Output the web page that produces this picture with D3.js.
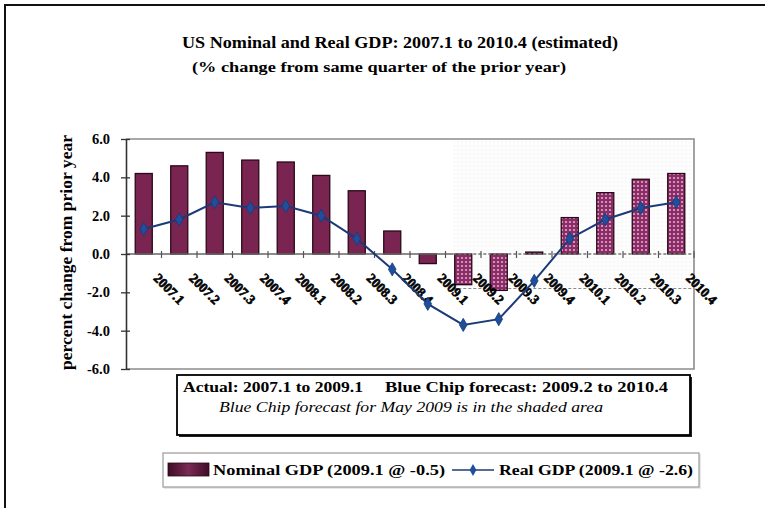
<!DOCTYPE html>
<html>
<head>
<meta charset="utf-8">
<script src="https://cdn.jsdelivr.net/npm/d3@7"></script>
<style>
  html, body { margin: 0; padding: 0; background: #fff; }
  svg { display: block; }
  svg text { font-family: "Liberation Serif", "DejaVu Serif", serif !important; fill: #000; }
</style>
</head>
<body>
<svg id="chart" width="765" height="508"></svg>
<script>
// Quarters on the category axis
const quarters = ["2007.1", "2007.2", "2007.3", "2007.4", "2008.1", "2008.2", "2008.3", "2008.4",
                  "2009.1", "2009.2", "2009.3", "2009.4", "2010.1", "2010.2", "2010.3", "2010.4"];
// Nominal GDP, % change from same quarter of prior year (bars)
const nominalGDP = [4.2, 4.6, 5.3, 4.9, 4.8, 4.1, 3.3, 1.2, -0.5, -1.6, -1.9, 0.1, 1.9, 3.2, 3.9, 4.2];
// Real GDP, % change from same quarter of prior year (line)
const realGDP = [1.3, 1.8, 2.7, 2.4, 2.5, 2.0, 0.8, -0.8, -2.6, -3.7, -3.4, -1.4, 0.8, 1.8, 2.4, 2.7];
// Value axis ticks
const yTicks = [6, 4, 2, 0, -2, -4, -6];
// First forecast quarter and the lower edge of the shaded forecast area
const firstForecast = "2009.2";
const shadeFloor = -1.8;

const SERIF = "'Liberation Serif', 'DejaVu Serif', serif";

const svg = d3.select("#chart");
const plot = { left: 126, right: 694, top: 139, bottom: 369 };

const x = d3.scaleBand().domain(quarters).range([plot.left, plot.right]).padding(0);
const y = d3.scaleLinear().domain([-6, 6]).range([plot.bottom, plot.top]);
const barW = x.bandwidth() * 0.48;
const fcIndex = quarters.indexOf(firstForecast);
const cx = q => x(q) + x.bandwidth() / 2;

function label(sel) {
  return sel.attr("font-family", SERIF).style("font-family", SERIF);
}

// ---- patterns ----
const defs = svg.append("defs");
const shade = defs.append("pattern").attr("id", "shade")
  .attr("patternUnits", "userSpaceOnUse").attr("width", 4).attr("height", 4);
shade.append("rect").attr("width", 4).attr("height", 4).attr("fill", "#fdfdfd");
shade.append("circle").attr("cx", 2).attr("cy", 2).attr("r", 0.6).attr("fill", "#ebebeb");

const fcBar = defs.append("pattern").attr("id", "fcbar")
  .attr("patternUnits", "userSpaceOnUse").attr("width", 4).attr("height", 4);
fcBar.append("rect").attr("width", 4).attr("height", 4).attr("fill", "#8a2d64");
fcBar.append("circle").attr("cx", 2).attr("cy", 2).attr("r", 1.1).attr("fill", "#e2a6d3");

const swatchGrad = defs.append("linearGradient").attr("id", "swatch")
  .attr("x1", 0).attr("y1", 0).attr("x2", 1).attr("y2", 0);
swatchGrad.append("stop").attr("offset", "0%").attr("stop-color", "#3e0c26");
swatchGrad.append("stop").attr("offset", "50%").attr("stop-color", "#7a2a55");
swatchGrad.append("stop").attr("offset", "100%").attr("stop-color", "#3e0c26");

// ---- outer frame ----
svg.append("path").attr("d", "M5,508 V5 H765")
  .attr("fill", "none").attr("stroke", "#111").attr("stroke-width", 2);

// ---- titles ----
label(svg.append("text")).attr("x", 182).attr("y", 48)
  .attr("textLength", 436).attr("lengthAdjust", "spacingAndGlyphs")
  .style("font-size", "16px").style("font-weight", "bold")
  .text("US Nominal and Real GDP: 2007.1 to 2010.4 (estimated)");
label(svg.append("text")).attr("x", 192).attr("y", 72)
  .attr("textLength", 374).attr("lengthAdjust", "spacingAndGlyphs")
  .style("font-size", "15.5px").style("font-weight", "bold")
  .text("(% change from same quarter of the prior year)");

// ---- shaded forecast area ----
const shadeX0 = x(firstForecast) + x.bandwidth() * 0.22;
svg.append("rect")
  .attr("x", shadeX0).attr("y", plot.top + 2)
  .attr("width", plot.right - shadeX0).attr("height", y(shadeFloor) - plot.top - 2)
  .attr("fill", "url(#shade)");
svg.append("line")
  .attr("x1", shadeX0).attr("x2", plot.right)
  .attr("y1", y(shadeFloor)).attr("y2", y(shadeFloor))
  .attr("stroke", "#8a8a8a").attr("stroke-width", 1.2).attr("stroke-dasharray", "3,2");

// ---- plot border ----
svg.append("path")
  .attr("d", `M${plot.left},${plot.top}H${plot.right}V${plot.bottom}H${plot.left}`)
  .attr("fill", "none").attr("stroke", "#8c8c8c").attr("stroke-width", 1.6);

// ---- bars ----
svg.append("g").selectAll("rect").data(quarters).join("rect")
  .attr("x", q => x(q) + (x.bandwidth() - barW) / 2)
  .attr("y", (q, i) => y(Math.max(0, nominalGDP[i])))
  .attr("width", barW)
  .attr("height", (q, i) => Math.abs(y(nominalGDP[i]) - y(0)))
  .attr("fill", (q, i) => i >= fcIndex ? "url(#fcbar)" : "#7a2452")
  .attr("stroke", "#2a0818").attr("stroke-width", 1.3);

// ---- zero line: solid for actuals, dashed across the forecast area ----
svg.append("line")
  .attr("x1", plot.left).attr("x2", shadeX0).attr("y1", y(0)).attr("y2", y(0))
  .attr("stroke", "#666").attr("stroke-width", 1.5);
svg.append("line")
  .attr("x1", shadeX0).attr("x2", plot.right).attr("y1", y(0)).attr("y2", y(0))
  .attr("stroke", "#777").attr("stroke-width", 1.5).attr("stroke-dasharray", "3,2");
// category boundary ticks on the zero line
svg.append("g").selectAll("line").data(quarters.slice(1).map(q => x(q)).concat([plot.right]))
  .join("line")
  .attr("x1", d => d).attr("x2", d => d)
  .attr("y1", y(0) - 3).attr("y2", y(0) + 4)
  .attr("stroke", "#555").attr("stroke-width", 1.2);

// ---- value axis ----
const yAxis = d3.axisLeft(y).tickValues(yTicks).tickFormat(d => d.toFixed(1))
  .tickSizeInner(5).tickSizeOuter(0).tickPadding(11);
const gy = svg.append("g").attr("transform", `translate(${plot.left},0)`).call(yAxis)
  .attr("font-family", SERIF);
gy.select(".domain").attr("stroke", "#333").attr("stroke-width", 1.6);
gy.selectAll(".tick line").attr("stroke", "#333").attr("stroke-width", 1.3).attr("x1", 4);
label(gy.selectAll(".tick text"))
  .style("font-size", "14.5px").style("font-weight", "bold").attr("fill", "#000");

label(svg.append("text"))
  .attr("transform", "translate(72,252.5) rotate(-90)")
  .attr("text-anchor", "middle")
  .attr("textLength", 235).attr("lengthAdjust", "spacingAndGlyphs")
  .style("font-size", "16px").style("font-weight", "bold")
  .text("percent change from prior year");

// ---- category labels ----
const xAxis = d3.axisBottom(x).tickSize(0).tickPadding(0);
const gx = svg.append("g").attr("transform", `translate(0,${y(0)})`).call(xAxis)
  .attr("font-family", SERIF);
gx.select(".domain").remove();
label(gx.selectAll(".tick text"))
  .attr("y", 0).attr("dy", 0)
  .attr("text-anchor", "start")
  .attr("transform", "translate(9,25) rotate(45)")
  .style("font-size", "13.5px").style("font-weight", "bold")
  .attr("fill", "#000").attr("stroke", "#000").attr("stroke-width", 0.6);

// ---- real GDP line ----
const line = d3.line().x((d, i) => cx(quarters[i])).y(d => y(d));
svg.append("path").datum(realGDP)
  .attr("d", line).attr("fill", "none")
  .attr("stroke", "#1d3a78").attr("stroke-width", 2);
svg.append("g").selectAll("path").data(realGDP).join("path")
  .attr("transform", (d, i) => `translate(${cx(quarters[i])},${y(d)})`)
  .attr("d", d3.symbol().type(d3.symbolDiamond).size(50))
  .attr("fill", "#1f4f9c").attr("stroke", "#173a78").attr("stroke-width", 0.8);

// ---- note box ----
svg.append("rect").attr("x", 179).attr("y", 377).attr("width", 513).attr("height", 60)
  .attr("fill", "#222");
svg.append("rect").attr("x", 177).attr("y", 375).attr("width", 513).attr("height", 60)
  .attr("fill", "#fff").attr("stroke", "#000").attr("stroke-width", 1.8);
label(svg.append("text")).attr("x", 183).attr("y", 392)
  .attr("textLength", 180).attr("lengthAdjust", "spacingAndGlyphs")
  .style("font-size", "15.5px").style("font-weight", "bold")
  .text("Actual: 2007.1 to 2009.1");
label(svg.append("text")).attr("x", 385).attr("y", 392)
  .attr("textLength", 283).attr("lengthAdjust", "spacingAndGlyphs")
  .style("font-size", "15.5px").style("font-weight", "bold")
  .text("Blue Chip forecast: 2009.2 to 2010.4");
label(svg.append("text")).attr("x", 219).attr("y", 412)
  .attr("textLength", 384).attr("lengthAdjust", "spacingAndGlyphs")
  .style("font-size", "15.5px").style("font-style", "italic")
  .text("Blue Chip forecast for May 2009 is in the shaded area");

// ---- legend ----
svg.append("rect").attr("x", 164).attr("y", 454).attr("width", 537).attr("height", 35)
  .attr("fill", "#e8e8e8");
svg.append("rect").attr("x", 163).attr("y", 453).attr("width", 536).attr("height", 34)
  .attr("fill", "#fff").attr("stroke", "#9a9a9a").attr("stroke-width", 1.2);
svg.append("rect").attr("x", 168).attr("y", 463).attr("width", 41).attr("height", 13)
  .attr("fill", "url(#swatch)").attr("stroke", "#2a0818").attr("stroke-width", 0.8);
label(svg.append("text")).attr("x", 213).attr("y", 475)
  .attr("textLength", 232).attr("lengthAdjust", "spacingAndGlyphs")
  .style("font-size", "15.5px").style("font-weight", "bold")
  .text("Nominal GDP (2009.1 @ -0.5)");
svg.append("line").attr("x1", 452).attr("x2", 494).attr("y1", 470).attr("y2", 470)
  .attr("stroke", "#1d3a78").attr("stroke-width", 1.6);
svg.append("path").attr("transform", "translate(473,470)")
  .attr("d", d3.symbol().type(d3.symbolDiamond).size(40))
  .attr("fill", "#1f4f9c");
label(svg.append("text")).attr("x", 499).attr("y", 475)
  .attr("textLength", 194).attr("lengthAdjust", "spacingAndGlyphs")
  .style("font-size", "15.5px").style("font-weight", "bold")
  .text("Real GDP (2009.1 @ -2.6)");
</script>
</body>
</html>
